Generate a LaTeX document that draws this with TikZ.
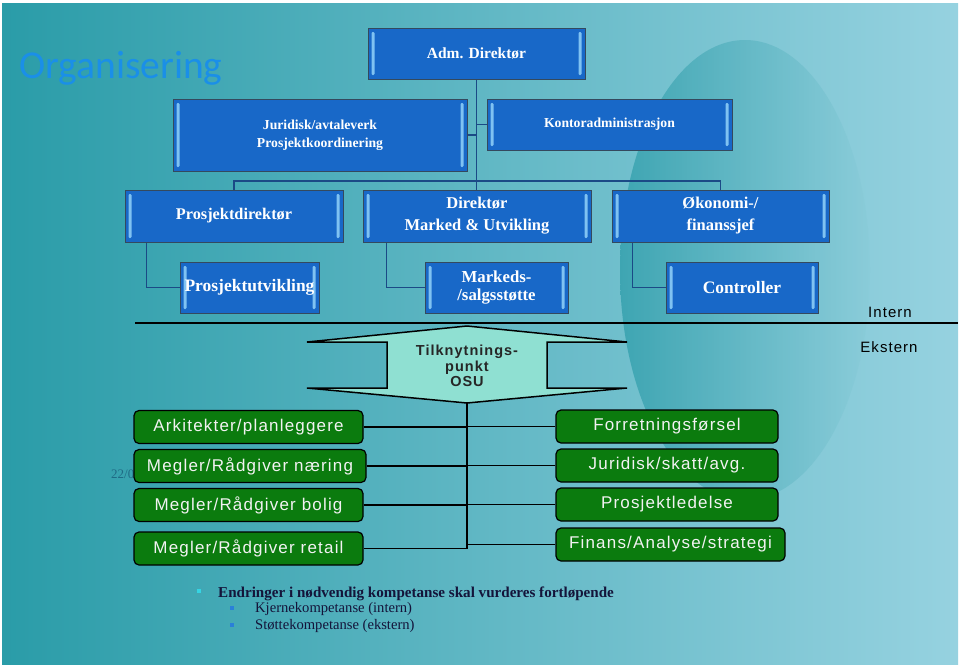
\documentclass[tikz,border=0pt]{standalone}
\usepackage{fontspec}
\setmainfont{Liberation Serif}
\newfontfamily\spacedsans{Liberation Sans}[LetterSpace=7]
\newfontfamily\titlefont{Carlito}
\usepackage{tikz}
\usetikzlibrary{positioning,calc}
\definecolor{slideleft}{HTML}{2A9CA8}
\definecolor{slideright}{HTML}{96D2E0}
\definecolor{ovalleft}{HTML}{2E9DAA}
\definecolor{ovalright}{HTML}{8ACCD9}
\definecolor{titleblue}{HTML}{1A8FE8}
\definecolor{orgblue}{HTML}{1868C8}
\definecolor{orgedge}{HTML}{34495E}
\definecolor{bevelblue}{HTML}{7FC2F2}
\definecolor{orgline}{HTML}{1B4A86}
\definecolor{extgreen}{HTML}{0B7B0E}
\definecolor{osufill}{HTML}{8FE0D2}
\definecolor{datecol}{HTML}{1F6B85}
\definecolor{bulletcyan}{HTML}{35D4E3}
\definecolor{bulletblue}{HTML}{2A80D8}
\definecolor{notecol}{HTML}{14143A}
\tikzset{
    orgbox/.style={draw=orgedge, line width=1pt, fill=orgblue, text=white,
        inner sep=0pt, align=center,
        path picture={
            \fill[bevelblue, rounded corners=1.2pt]
                ([xshift=3.5pt,yshift=-4pt]path picture bounding box.north west) rectangle
                ([xshift=6.5pt,yshift=4pt]path picture bounding box.south west);
            \fill[bevelblue, rounded corners=1.2pt]
                ([xshift=-3.5pt,yshift=-4pt]path picture bounding box.north east) rectangle
                ([xshift=-6.5pt,yshift=4pt]path picture bounding box.south east);
        }},
    orgconn/.style={draw=orgline, line width=1.5pt},
    sepline/.style={draw=black, line width=2pt},
    osushape/.style={draw=black, fill=osufill, line width=1.5pt, line join=miter},
    osutext/.style={align=center, text=black!85, inner sep=0pt,
        font=\spacedsans\bfseries\fontsize{14.5}{15.5}\selectfont},
    extbox/.style={draw=black, line width=1.2pt, fill=extgreen, rounded corners=5pt,
        text=white!95!black, minimum height=33pt, inner sep=0pt,
        font=\spacedsans\fontsize{17}{19}\selectfont},
    extline/.style={draw=black, line width=1.5pt},
    sidelabel/.style={text=black, font=\spacedsans\fontsize{15}{17}\selectfont},
}
\begin{document}
\begin{tikzpicture}[x=1pt,y=-1pt]
    % slide
    \fill[white] (0,0) rectangle (960,667);
    \shade[left color=slideleft, right color=slideright] (2,3) rectangle (958,664);
    \begin{scope}
        \clip (2,3) rectangle (958,664);
        \shade[left color=ovalleft, right color=ovalright, opacity=0.75] (745,270) ellipse [x radius=125pt, y radius=230pt];
    \end{scope}
    \node[anchor=base west, text=titleblue, inner sep=0pt,
        font=\titlefont\fontsize{39.5}{41}\selectfont] (title) at (19,78) {Organisering};
    % intern organisation
    \node[orgbox, minimum width=217pt, minimum height=51pt, font=\bfseries\fontsize{15.5}{18}\selectfont]
        (adm) at (476.5,53.5) {Adm. Direktør};
    \node[orgbox, minimum width=294pt, minimum height=72pt, font=\bfseries\fontsize{13.7}{18}\selectfont]
        (jur) at (320,135) {Juridisk/avtaleverk\\Prosjektkoordinering};
    \node[orgbox, minimum width=245pt, minimum height=51pt, font=\bfseries\fontsize{13.7}{18}\selectfont]
        (kontor) at (609.5,124.5) {Kontoradministrasjon};
    \node[orgbox, minimum width=218pt, minimum height=52pt, font=\bfseries\fontsize{16.3}{22}\selectfont]
        (pdir) at (234,216) {Prosjektdirektør};
    \node[orgbox, minimum width=228pt, minimum height=52pt, font=\bfseries\fontsize{16.5}{22}\selectfont]
        (dmu) at (477,216) {Direktør\\Marked \& Utvikling};
    \node[orgbox, minimum width=217pt, minimum height=52pt, font=\bfseries\fontsize{16.5}{22}\selectfont]
        (oko) at (720.5,216) {Økonomi-/\\finanssjef};
    \node[orgbox, minimum width=139pt, minimum height=51pt, font=\bfseries\fontsize{17.5}{18}\selectfont]
        (putv) at (249.5,287.5) {Prosjektutvikling};
    \node[orgbox, minimum width=143pt, minimum height=51pt, font=\bfseries\fontsize{16.8}{18}\selectfont]
        (msal) at (496.5,287.5) {Markeds-\\/salgsstøtte};
    \node[orgbox, minimum width=152pt, minimum height=51pt, font=\bfseries\fontsize{17.5}{18}\selectfont]
        (ctrl) at (742,287.5) {Controller};
    \coordinate (bus) at (477,181);
    \draw[orgconn] (adm.south) -- (adm.south |- dmu.north);
    \draw[orgconn] (jur.east) -- (jur.east -| adm.south);
    \draw[orgconn] (kontor.west) -- (kontor.west -| adm.south);
    \draw[orgconn] (pdir.north) -- (pdir.north |- bus) -- (oko.north |- bus) -- (oko.north);
    \draw[orgconn] ([xshift=22pt]pdir.south west) |- (putv.west);
    \draw[orgconn] ([xshift=24pt]dmu.south west) |- (msal.west);
    \draw[orgconn] ([xshift=21pt]oko.south west) |- (ctrl.west);
    % intern / ekstern
    \coordinate (sepL) at (135,323);
    \coordinate (sepR) at (958,323);
    \draw[sepline] (sepL) -- (sepR);
    \node[sidelabel] (intern) at (890,312) {Intern};
    \node[sidelabel] (ekstern) at (889,347) {Ekstern};
    \filldraw[osushape] (307,342) -- (467,326) -- (627,342) -- (547,342) -- (547,388) -- (627,388)
        -- (467,403) -- (307,388) -- (387,388) -- (387,342) -- cycle;
    \coordinate (osubot) at (467,403);
    \node[osutext] (osu) at (467,366) {Tilknytnings-\\punkt\\OSU};
    % ekstern
    \node[anchor=base west, inner sep=0pt, text=datecol, font=\fontsize{13}{15}\selectfont]
        (date) at (111,478) {22/0};
    \node[extbox, minimum width=229pt] (ark) at (248.5,427) {Arkitekter/planleggere};
    \node[extbox, minimum width=232pt] (naer) at (250,466) {Megler/Rådgiver næring};
    \node[extbox, minimum width=229pt] (bolig) at (248.5,505) {Megler/Rådgiver bolig};
    \node[extbox, minimum width=229pt] (retail) at (248.5,548.5) {Megler/Rådgiver retail};
    \node[extbox, minimum width=222pt] (forr) at (667,426.5) {Forretningsførsel};
    \node[extbox, minimum width=222pt] (jur2) at (667,465.5) {Juridisk/skatt/avg.};
    \node[extbox, minimum width=222pt] (pled) at (667,504.5) {Prosjektledelse};
    \node[extbox, minimum width=229pt] (finans) at (670.5,544.5) {Finans/Analyse/strategi};
    \draw[extline] (osubot) |- (retail.east);
    \foreach \b in {ark,naer,bolig}
        \draw[extline] (\b.east) -- (\b.east -| osubot);
    \foreach \b in {forr,jur2,pled,finans}
        \draw[extline] (\b.west) -- (\b.west -| osubot);
    % notes
    \fill[bulletcyan] (197,589) rectangle +(4,4);
    \node[anchor=base west, inner sep=0pt, text=notecol, font=\bfseries\fontsize{15.1}{17}\selectfont]
        (note) at (218,597) {Endringer i nødvendig kompetanse skal vurderes fortløpende};
    \fill[bulletblue] (230,606) rectangle +(3.5,3.5);
    \node[anchor=base west, inner sep=0pt, text=notecol, font=\fontsize{14.6}{16}\selectfont]
        (kjerne) at (255,612) {Kjernekompetanse (intern)};
    \fill[bulletblue] (230,623) rectangle +(3.5,3.5);
    \node[anchor=base west, inner sep=0pt, text=notecol, font=\fontsize{14.6}{16}\selectfont]
        (stotte) at (255,629) {Støttekompetanse (ekstern)};
\end{tikzpicture}
\end{document}
